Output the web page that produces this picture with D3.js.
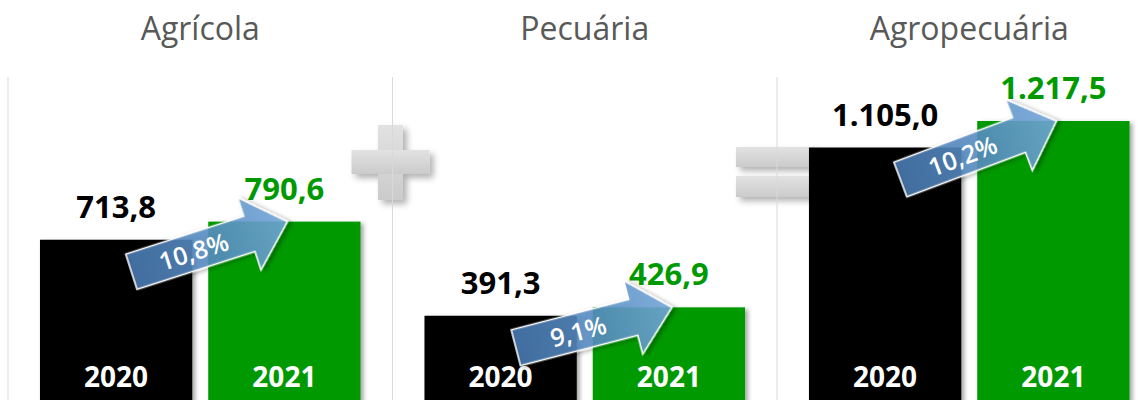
<!DOCTYPE html>
<html>
<head>
<meta charset="utf-8">
<script src="https://cdn.jsdelivr.net/npm/d3@7"></script>
<style>
  html, body { margin: 0; padding: 0; background: #fff; }
  svg { display: block; font-family: "Open Sans", sans-serif; }
</style>
</head>
<body>
<div id="chart"></div>
<script>
const panels = ["Agrícola", "Pecuária", "Agropecuária"];
const years = ["2020", "2021"];
const values2020 = [713.8, 391.3, 1105.0];
const values2021 = [790.6, 426.9, 1217.5];
const yearColors = ["#000000", "#009900"];
const signs = ["+", "="];

const width = 1148, height = 400;
const ptBR = d3.formatLocale({ decimal: ",", thousands: ".", grouping: [3], currency: ["R$", ""] });
const fmtVal = ptBR.format(",.1f");
const fmtPct = ptBR.format(".1%");

const svg = d3.select("#chart").append("svg")
    .attr("width", width)
    .attr("height", height);

const defs = svg.append("defs");

const shadow = defs.append("filter").attr("id", "shadow")
    .attr("x", "-20%").attr("y", "-20%").attr("width", "140%").attr("height", "140%");
shadow.append("feDropShadow")
    .attr("dx", 3).attr("dy", 2).attr("stdDeviation", 2)
    .attr("flood-color", "#000").attr("flood-opacity", 0.35);

const softShadow = defs.append("filter").attr("id", "soft-shadow")
    .attr("x", "-30%").attr("y", "-30%").attr("width", "160%").attr("height", "160%");
softShadow.append("feDropShadow")
    .attr("dx", 4).attr("dy", 4).attr("stdDeviation", 3)
    .attr("flood-color", "#000").attr("flood-opacity", 0.3);

const signGrad = defs.append("linearGradient").attr("id", "sign-grad")
    .attr("x1", 0).attr("y1", 0).attr("x2", 0).attr("y2", 1);
signGrad.append("stop").attr("offset", "0%").attr("stop-color", "#e2e2e2");
signGrad.append("stop").attr("offset", "100%").attr("stop-color", "#cbcbcb");

// panels and bars
const x = d3.scaleBand().domain(panels).range([8, 8 + 3 * 384.5]);
const xInner = d3.scaleBand().domain(years).range([0, x.bandwidth()])
    .paddingInner(0.095).paddingOuter(0.19);
const y = d3.scaleLinear().domain([0, d3.max(values2021)]).range([408, 121]);
const bw = xInner.bandwidth();

const rows = panels.map((p, i) => ({
    panel: p,
    bars: [
        { year: years[0], value: values2020[i], color: yearColors[0] },
        { year: years[1], value: values2021[i], color: yearColors[1] }
    ]
}));

// titles
svg.selectAll(".title")
    .data(panels)
    .enter().append("text")
    .attr("class", "title")
    .attr("x", d => x(d) + x.bandwidth() / 2)
    .attr("y", 40)
    .attr("text-anchor", "middle")
    .style("font-size", "32px")
    .style("fill", "#595959")
    .text(d => d);

// + and = between panels
signs.forEach((s, i) => {
    const cx = x(panels[i + 1]) - 2;
    const g = svg.append("g")
        .attr("filter", "url(#soft-shadow)")
        .attr("fill", "url(#sign-grad)");
    if (s === "+") {
        const cy = 162;
        g.append("rect").attr("x", cx - 12.5).attr("y", cy - 37).attr("width", 25).attr("height", 75);
        g.append("rect").attr("x", cx - 39).attr("y", cy - 12).attr("width", 78).attr("height", 24);
    } else {
        const cy = 172;
        g.append("rect").attr("x", cx - 39).attr("y", cy - 25).attr("width", 78).attr("height", 20);
        g.append("rect").attr("x", cx - 39).attr("y", cy + 4).attr("width", 78).attr("height", 21);
    }
});

// separator lines
svg.selectAll(".sep")
    .data(d3.range(panels.length + 1))
    .enter().append("line")
    .attr("x1", i => 8 + i * x.step())
    .attr("x2", i => 8 + i * x.step())
    .attr("y1", 77)
    .attr("y2", height)
    .attr("stroke", "#d9d9d9")
    .attr("stroke-width", 1);

const pg = svg.selectAll(".panel")
    .data(rows)
    .enter().append("g")
    .attr("class", "panel")
    .attr("transform", d => `translate(${x(d.panel)},0)`);

pg.selectAll(".bar")
    .data(d => d.bars)
    .enter().append("rect")
    .attr("class", "bar")
    .attr("x", d => xInner(d.year))
    .attr("y", d => y(d.value))
    .attr("width", bw)
    .attr("height", d => y(0) - y(d.value))
    .attr("fill", d => d.color)
    .attr("filter", "url(#shadow)");

pg.selectAll(".val")
    .data(d => d.bars)
    .enter().append("text")
    .attr("class", "val")
    .attr("x", d => xInner(d.year) + bw / 2)
    .attr("y", d => y(d.value) - 22)
    .attr("text-anchor", "middle")
    .style("font-size", "31px")
    .style("font-weight", "bold")
    .style("fill", d => d.color)
    .text(d => fmtVal(d.value));

pg.selectAll(".yr")
    .data(d => d.bars)
    .enter().append("text")
    .attr("class", "yr")
    .attr("x", d => xInner(d.year) + bw / 2)
    .attr("y", 387)
    .attr("text-anchor", "middle")
    .style("font-size", "28px")
    .style("font-weight", "bold")
    .style("fill", "#fff")
    .text(d => d.year);

// growth arrows
rows.forEach((r, i) => {
    const a = r.bars[0], b = r.bars[1];
    const x0 = x(r.panel) + xInner(a.year) + bw * 0.6;
    const y0 = y(a.value) + 32;
    const x1 = x(r.panel) + xInner(b.year) + bw * 0.52;
    const y1 = y(b.value);
    const len = Math.hypot(x1 - x0, y1 - y0);
    const ang = Math.atan2(y1 - y0, x1 - x0) * 180 / Math.PI;
    const sw = 18.5, hw = 38, hl = 40;

    const grad = defs.append("linearGradient").attr("id", "arrow-grad-" + i)
        .attr("gradientUnits", "userSpaceOnUse")
        .attr("x1", 0).attr("y1", 0).attr("x2", len).attr("y2", 0);
    grad.append("stop").attr("offset", "0%").attr("stop-color", "#4a7db5");
    grad.append("stop").attr("offset", "55%").attr("stop-color", "#5a8fc6");
    grad.append("stop").attr("offset", "100%").attr("stop-color", "#74a9dc");

    const g = svg.append("g")
        .attr("transform", `translate(${x0},${y0}) rotate(${ang})`);

    const pts = [
        [0, -sw], [len - hl, -sw], [len - hl, -hw], [len, 0],
        [len - hl, hw], [len - hl, sw], [0, sw]
    ];
    g.append("path")
        .attr("d", d3.line()(pts) + "Z")
        .attr("fill", `url(#arrow-grad-${i})`)
        .attr("fill-opacity", 0.86)
        .attr("stroke", "#fff")
        .attr("stroke-width", 1.5)
        .attr("stroke-linejoin", "miter")
        .attr("filter", "url(#shadow)");

    g.append("text")
        .attr("x", len * 0.4)
        .attr("y", 0)
        .attr("dy", "0.36em")
        .attr("text-anchor", "middle")
        .style("font-size", "25px")
        .style("font-weight", 600)
        .style("fill", "#fff")
        .text(fmtPct(b.value / a.value - 1));
});
</script>
</body>
</html>
